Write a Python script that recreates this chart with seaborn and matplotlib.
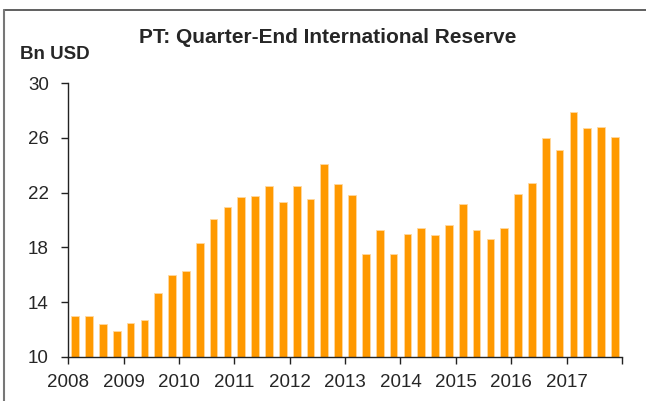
import pandas as pd
import seaborn as sns
import matplotlib.pyplot as plt
import matplotlib.transforms as mtransforms
from matplotlib.lines import Line2D

# Reservas internacionais de fim de trimestre (Bn USD), 2008Q1 - 2017Q4
anos = ["2008", "2009", "2010", "2011", "2012", "2013", "2014", "2015", "2016", "2017"]
trimestres = ["Q1", "Q2", "Q3", "Q4"]
reservas = [
    13.0, 13.0, 12.4, 11.9,
    12.45, 12.7, 14.65, 15.95,
    16.25, 18.3, 20.05, 20.95,
    21.7, 21.75, 22.5, 21.3,
    22.45, 21.5, 24.05, 22.65,
    21.85, 17.5, 19.3, 17.5,
    18.95, 19.4, 18.9, 19.6,
    21.15, 19.3, 18.6, 19.4,
    21.9, 22.7, 26.0, 25.1,
    27.85, 26.75, 26.8, 26.05,
]
y_ticks = [10, 14, 18, 22, 26, 30]

periodos = [a + t for a in anos for t in trimestres]
df = pd.DataFrame({"Periodo": periodos, "Reserva": reservas})

sns.set_style("white")
plt.rcParams["font.family"] = ["Liberation Sans", "DejaVu Sans"]

fig = plt.figure(figsize=(6.46, 4.01), dpi=100)
ax = fig.add_axes([0.1057, 0.11, 0.857, 0.683])

sns.barplot(data=df, x="Periodo", y="Reserva", color="#FF9900", saturation=1,
            width=0.56, edgecolor="#FFD9A0", linewidth=0.6, ax=ax)

ax.set_xlim(-0.5, len(reservas) - 0.5)
ax.set_ylim(10, 30)
ax.set_yticks(y_ticks)
ax.set_yticklabels([str(v) for v in y_ticks], fontsize=13.5)
pos = [-0.5 + 4 * i for i in range(len(anos) + 1)]
ax.set_xticks(pos)
ax.set_xticklabels(anos + [""], fontsize=13.5)
deslocamento = mtransforms.ScaledTranslation(3 / 100, 0, fig.dpi_scale_trans)
for lbl in ax.get_xticklabels():
    lbl.set_transform(lbl.get_transform() + deslocamento)

ax.set_xlabel("")
ax.set_ylabel("")
sns.despine(ax=ax)
for s in ["left", "bottom"]:
    ax.spines[s].set_color("#222222")
    ax.spines[s].set_linewidth(1)
ax.tick_params(axis="both", direction="out", length=5, width=1, color="#222222",
               left=True, bottom=True, pad=7)
ax.tick_params(axis="y", pad=9)

fig.text(0.508, 0.906, "PT: Quarter-End International Reserve", ha="center", va="center",
         fontsize=15, fontweight="bold")
fig.text(0.031, 0.865, "Bn USD", ha="left", va="center", fontsize=13.5, fontweight="bold")

# moldura
fig.add_artist(Line2D([0.006, 1.0], [0.976, 0.976], color="#444444", lw=1.2))
fig.add_artist(Line2D([0.006, 0.006], [0.0, 0.976], color="#777777", lw=1.5))

fig.savefig("out.png", dpi=100)
